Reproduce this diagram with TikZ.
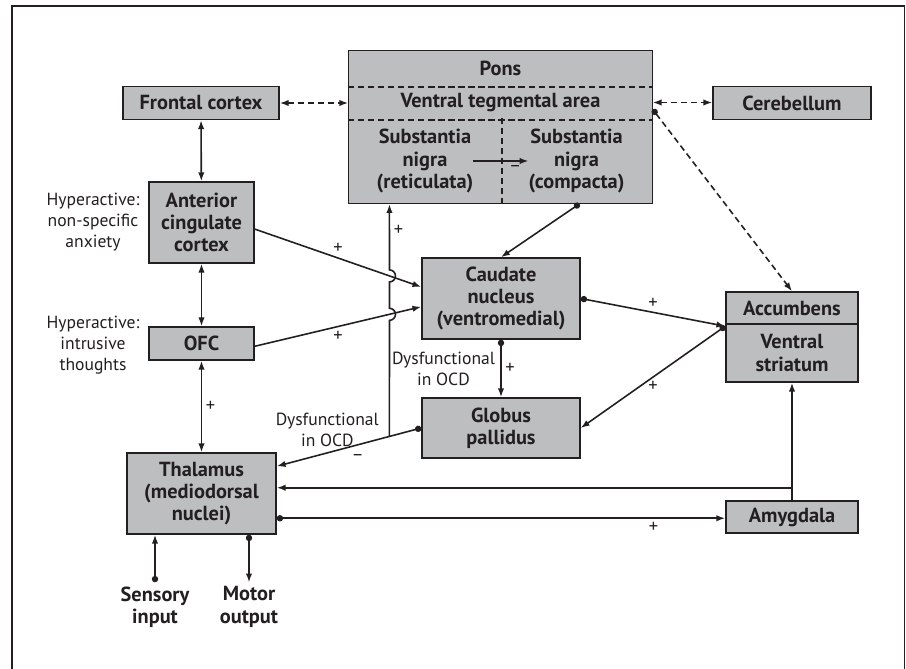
\documentclass[tikz,border=0pt]{standalone}
\usepackage{fontspec}
\setmainfont{PT Sans}
\usetikzlibrary{arrows.meta, positioning, calc, fit, backgrounds}
\definecolor{cfill}{HTML}{BCBEC0}
\definecolor{cline}{HTML}{231F20}
\tikzset{
  every picture/.style={line width=0.9pt, x=0.02cm, y=-0.02cm},
  box/.style={draw=cline, fill=cfill, align=center, inner sep=2pt, text=cline, font=\fontsize{11.6}{12.7}\selectfont\bfseries},
  cell/.style={align=center, inner sep=2pt, text=cline, font=\fontsize{11.6}{12.7}\selectfont\bfseries},
  io/.style={align=center, inner sep=2pt, text=cline, font=\fontsize{11.6}{12.7}\selectfont\bfseries},
  note/.style={align=center, inner sep=3pt, text=cline, font=\fontsize{10}{12}\selectfont},
  sign/.style={inner sep=2pt, text=cline, font=\fontsize{10.5}{11}\selectfont},
  dsh/.style={dash pattern=on 3.5pt off 2.2pt},
  arrow/.style={draw=cline, -{Latex[length=5pt, width=3.6pt]}},
  dotarrow/.style={draw=cline, {Circle[length=3.6pt]}-{Latex[length=5pt, width=3.6pt]}},
  twoway/.style={draw=cline, {Latex[length=5pt, width=3.6pt]}-{Latex[length=5pt, width=3.6pt]}},
}

\begin{document}
\begin{tikzpicture}
  \useasboundingbox (0,0) rectangle (906,669);
  % frame round the figure (its bottom lies below the page)
  \draw[cline] (12,669) -- (12,6) -- (904.5,6) -- (904.5,669);
  % cortex column
  \node[box, minimum width=3.12cm, minimum height=0.66cm] (front) at (201,103) {Frontal cortex};
  \node[box, minimum width=2.1cm, minimum height=1.62cm] (acc) at (201.5,222.5) {Anterior\\cingulate\\cortex};
  \node[box, minimum width=2.1cm, minimum height=0.66cm] (ofc) at (201.5,343.5) {OFC};
  \node[box, minimum width=2.98cm, minimum height=1.62cm] (thal) at (201.5,493.5) {Thalamus\\(mediodorsal\\nuclei)};
  \node[box, minimum width=3.16cm, minimum height=0.66cm] (cereb) at (792,103) {Cerebellum};
  % midbrain block: four cells on one grey background
  \node[cell, minimum width=6.06cm, minimum height=0.7cm] (pons) at (500.5,68.5) {Pons};
  \node[cell, minimum width=6.06cm, minimum height=0.66cm] (vta) at (500.5,102.5) {Ventral tegmental area};
  \node[cell, minimum width=3.04cm, minimum height=1.68cm] (snr) at (425,161) {Substantia\\nigra\\(reticulata)};
  \node[cell, minimum width=3.02cm, minimum height=1.68cm] (snc) at (576.5,161) {Substantia\\nigra\\(compacta)};
  \begin{scope}[on background layer]
    \node[box, fit=(pons)(vta)(snr)(snc), inner sep=0pt] (mid) {};
  \end{scope}
  \draw[cline, dsh] (pons.south west) -- (pons.south east);
  \draw[cline, dsh] (vta.south west) -- (vta.south east);
  \draw[cline, dsh] (snr.north east) -- (snr.south east);
  \draw[arrow] ($(snr.center)+(48,0)$) -- ($(snc.center)+(-48,0)$) node[pos=0.76, below, sign] {\textendash};
  % basal ganglia and amygdala
  \node[box, minimum width=3.16cm, minimum height=1.62cm] (caud) at (501,298.5) {Caudate\\nucleus\\(ventromedial)};
  \node[box, minimum width=3.16cm, minimum height=1.2cm] (gp) at (501,428) {Globus\\pallidus};
  \node[box, minimum width=2.64cm, minimum height=0.64cm] (accb) at (792,308) {Accumbens};
  \node[box, minimum width=2.64cm, minimum height=1.16cm] (vstr) at (792,353) {Ventral\\striatum};
  \node[box, minimum width=2.64cm, minimum height=0.64cm] (amyg) at (792,517) {Amygdala};
  % side notes, input and output
  \node[note] (hypa) at (93,222) {Hyperactive:\\non-specific\\anxiety};
  \node[note] (hypo) at (93,345) {Hyperactive:\\intrusive\\thoughts};
  \node[io] (sens) at (155,607) {Sensory\\input};
  \node[io] (mot) at (249,607) {Motor\\output};
  % ports on box edges
  \coordinate (accout) at ($(acc.north east)!0.58!(acc.south east)$);
  \coordinate (ofcout) at ($(ofc.north east)!0.58!(ofc.south east)$);
  \coordinate (cin1) at ($(caud.north west)!0.36!(caud.south west)$);
  \coordinate (cin2) at ($(caud.north west)!0.6!(caud.south west)$);
  \coordinate (thin1) at ($(thal.north east)!0.17!(thal.south east)$);
  \coordinate (thin2) at ($(thal.north east)!0.43!(thal.south east)$);
  \coordinate (thout) at ($(thal.north east)!0.8!(thal.south east)$);
  \coordinate (vin) at ($(vstr.north west)!0.05!(vstr.south west)$);
  \coordinate (vtaout) at ($(vta.north east)!0.7!(vta.south east)$);
  \coordinate (sncout) at ($(snc.south west)!0.52!(snc.south east)$);
  \coordinate (branch) at ($(gp.west)!0.22!(thin1)$);
  \coordinate (ponsin) at (branch |- mid.south);
  \coordinate (h1) at (intersection of accout--cin1 and branch--ponsin);
  \coordinate (h2) at (intersection of ofcout--cin2 and branch--ponsin);
  \coordinate (join) at (thin2 -| amyg.north);
  % cortical loop
  \draw[twoway] (front) -- (acc);
  \draw[twoway] (acc) -- (ofc);
  \draw[twoway] (ofc) -- (thal) node[midway, right, sign] {+};
  \draw[arrow] (accout) -- (cin1) node[midway, above, sign] {+};
  \draw[arrow] (ofcout) -- (cin2) node[midway, below, sign] {+};
  % dashed links of the midbrain
  \draw[twoway, dsh] (front.east) -- (front.east -| vta.west);
  \draw[twoway, dsh] (vta.east) -- (vta.east -| cereb.west);
  \draw[dotarrow, dsh] (vtaout) -- (accb.north);
  % striatal paths
  \draw[dotarrow] (sncout) -- (caud.north);
  \draw[dotarrow] (caud.east) -- (vin) node[midway, above, sign] {+};
  \draw[dotarrow] (vin) -- (gp.east) node[midway, below, sign] {+};
  \draw[dotarrow] (caud.south) -- (gp.north) node[midway, right, sign] {+}
    node[midway, left, note] {Dysfunctional\\in OCD};
  \draw[dotarrow] (gp.west) -- (thin1) node[pos=0.44, below=3pt, sign] {\textendash}
    node[pos=0.65, above, note] {Dysfunctional\\in OCD};
  % pallidal branch up to the midbrain, hopping over two lines
  \draw[arrow] (branch) -- ($(h2)+(0,6)$) arc[start angle=-90, end angle=90, radius=1.2mm]
    -- ($(h1)+(0,6)$) arc[start angle=-90, end angle=90, radius=1.2mm]
    -- (ponsin) node[pos=0.6, right, sign] {+};
  % amygdala and thalamic output
  \draw[arrow] (amyg.north) -- (vstr.south);
  \draw[arrow] (join) -- (thin2);
  \draw[dotarrow] (thout) -- (thout -| amyg.west) node[pos=0.84, below, sign] {+};
  \draw[dotarrow] (sens) -- (sens |- thal.south);
  \draw[dotarrow] (mot |- thal.south) -- (mot);
\end{tikzpicture}
\end{document}
